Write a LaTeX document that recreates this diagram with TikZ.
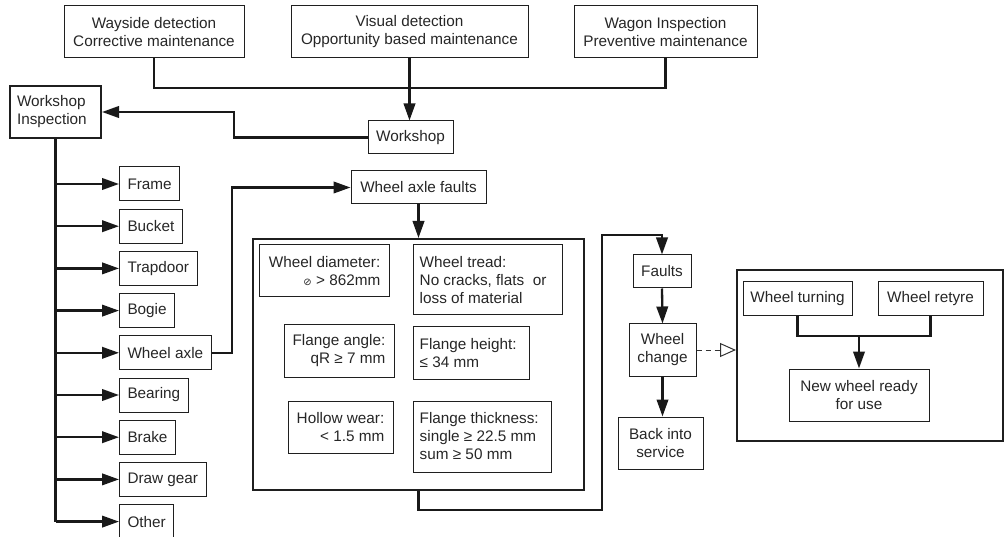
\documentclass[tikz,border=0pt]{standalone}
\usepackage{fontspec}
\setmainfont{Liberation Sans}
\newfontfamily\symfont{DejaVu Sans}
\usetikzlibrary{arrows.meta}
\begin{document}
\begin{tikzpicture}[x=1pt,y=-1pt,
  font=\fontsize{15.3pt}{18pt}\selectfont,
  box/.style={draw=black!88, line width=1pt, text=black!85, inner sep=0pt, align=center},
  heavybox/.style={box, line width=2pt},
  item/.style={box, anchor=west, minimum height=34pt, inner xsep=8pt},
  txt/.style={text=black!85, inner sep=0pt},
  flow/.style={draw=black!90, line width=2.3pt},
  arr/.style={flow, -{Triangle[length=17pt,width=11.5pt]}},
  dasharr/.style={draw=black!80, line width=1pt, dash pattern=on 5pt off 4pt,
    -{Triangle[open, length=16pt, width=14pt, fill=white]}}
]
\useasboundingbox (0,0) rectangle (1004,537);

% sources of work
\node[box, minimum width=180pt, minimum height=52pt] (way) at (154,32)
  {Wayside detection\\Corrective maintenance};
\node[box, minimum width=237pt, minimum height=52pt] (vis) at (409.5,32)
  {Visual detection\\Opportunity based maintenance};
\node[box, minimum width=183pt, minimum height=52pt] (wag) at (665.5,32)
  {Wagon Inspection\\Preventive maintenance};
\node[box, minimum width=85pt, minimum height=33pt] (ws) at (410.5,137.5) {Workshop};
\node[box, line width=2pt, minimum height=52pt, text width=77pt, inner xsep=7pt,
  align=left] (wi) at (55.5,112) {Workshop\\Inspection};

\coordinate (bus) at (410,88);
\draw[flow] (way.south) |- (bus) -| (wag.south);
\draw[arr] (vis.south) -- (vis.south |- ws.north);
\coordinate (j1) at (234,137.5);
\draw[arr] (ws.west) -- (j1) |- (wi.east);

% inspected components
\node[item] (frame)   at (119,184)   {Frame};
\node[item] (bucket)  at (119,226.2) {Bucket};
\node[item] (trap)    at (119,268.4) {Trapdoor};
\node[item] (bogie)   at (119,310.6) {Bogie};
\node[item] (wa)      at (119,352.8) {Wheel axle};
\node[item] (bearing) at (119,395)   {Bearing};
\node[item] (brake)   at (119,437.2) {Brake};
\node[item] (draw)    at (119,479.4) {Draw gear};
\node[item] (other)   at (119,521.6) {Other};

\draw[flow] (wi.south) -- (wi.south |- other.west);
\foreach \n in {frame,bucket,trap,bogie,wa,bearing,brake,draw,other}
  \draw[arr] (wi.south |- \n.west) -- (\n.west);

% wheel axle criteria
\node[box, minimum width=135pt, minimum height=33pt] (waf) at (418.5,187.5) {Wheel axle faults};
\coordinate (k1) at (232,187.5);
\draw[arr] (wa.east) -| (k1) -- (waf.west);

\node[heavybox, minimum width=331pt, minimum height=251pt] (crit) at (418.5,364.5) {};
\draw[arr] (waf.south) -- (crit.north);

\node[box, minimum width=130pt, minimum height=52pt] (wd) at (324,271) {};
\node[txt, anchor=east, align=right] (wdt) at ([xshift=-9pt]wd.east)
  {Wheel diameter:\\{\symfont\fontsize{10pt}{12pt}\selectfont ⊘} > 862mm};
\node[box, minimum width=149pt, minimum height=70pt] (wt) at (487.5,280) {};
\node[txt, anchor=west, align=left] (wtt) at ([xshift=7pt]wt.west)
  {Wheel tread:\\No cracks, flats\ \ or\\loss of material};
\node[box, minimum width=110pt, minimum height=52pt] (fa) at (339,351) {};
\node[txt, anchor=east, align=right] (fat) at ([xshift=-9pt]fa.east)
  {Flange angle:\\qR ≥ 7 mm};
\node[box, minimum width=116pt, minimum height=52pt] (fh) at (471,353) {};
\node[txt, anchor=west, align=left] (fht) at ([xshift=7pt]fh.west)
  {Flange height:\\≤ 34 mm};
\node[box, minimum width=105pt, minimum height=52pt] (hw) at (340.5,427) {};
\node[txt, anchor=east, align=right] (hwt) at ([xshift=-9pt]hw.east)
  {Hollow wear:\\< 1.5 mm};
\node[box, minimum width=138pt, minimum height=71pt] (ft) at (482,436.5) {};
\node[txt, anchor=west, align=left] (ftt) at ([xshift=7pt]ft.west)
  {Flange thickness:\\single ≥ 22.5 mm\\sum ≥ 50 mm};

% fault handling
\node[box, minimum width=58pt, minimum height=33pt] (faults) at (662,271.5) {Faults};
\node[box, minimum width=67pt, minimum height=52pt] (wc) at (662.5,350) {Wheel\\change};
\node[box, minimum width=85pt, minimum height=52pt] (bis) at (660.5,443) {Back into\\service};

\coordinate (r1) at (602,510);
\coordinate (r2) at (602,235);
\draw[arr] (crit.south) |- (r1) -- (r2) -| (faults.north);
\draw[arr] (faults.south) -- (wc.north);
\draw[arr] (wc.south) -- (wc.south |- bis.north);

% wheel repair
\node[heavybox, minimum width=266pt, minimum height=171pt] (rep) at (870,355.5) {};
\node[box, minimum width=109pt, minimum height=34pt] (wtu) at (797.5,299) {Wheel turning};
\node[box, minimum width=105pt, minimum height=34pt] (wre) at (930.5,299) {Wheel retyre};
\node[box, minimum width=140pt, minimum height=52pt] (nw) at (859,395) {New wheel ready\\for use};

\draw[dasharr] (wc.east) -- (wc.east -| rep.west);
\coordinate (m) at (859,336);
\draw[flow] (wtu.south) |- (m) -| (wre.south);
\draw[arr] (m) -- (nw.north);
\end{tikzpicture}
\end{document}
